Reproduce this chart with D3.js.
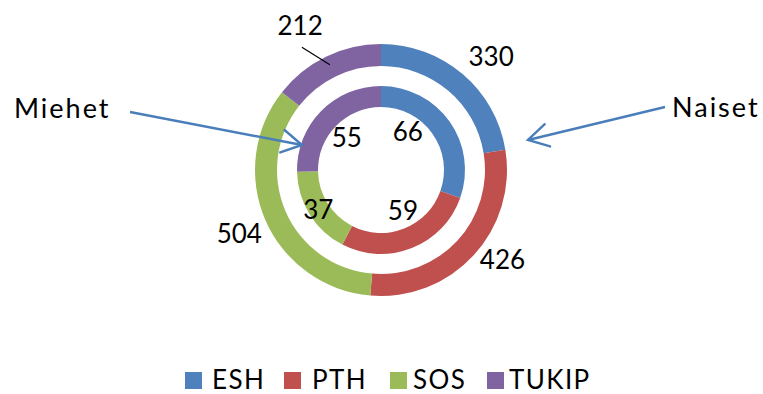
<!DOCTYPE html>
<html>
<head>
<meta charset="utf-8">
<script src="https://cdn.jsdelivr.net/npm/d3@7/dist/d3.min.js"></script>
<style>
  html, body { margin: 0; padding: 0; background: #fff; }
  svg { display: block; font-family: Lato, "Open Sans", sans-serif; }
</style>
</head>
<body>
<svg id="chart" width="763" height="394"></svg>
<script>
// Categories and values for the two rings
const categories = ["ESH", "PTH", "SOS", "TUKIP"];
const naiset = [330, 426, 504, 212];   // outer ring
const miehet = [66, 59, 37, 55];       // inner ring
const colors = ["#4F81BD", "#C0504D", "#9BBB59", "#8064A2"];

const svg = d3.select("#chart");
const cx = 381, cy = 170;

const color = d3.scaleOrdinal().domain(categories).range(colors);
const pie = d3.pie().sort(null).value(d => d.value);

function ringData(vals) {
  return pie(categories.map((c, i) => ({ cat: c, value: vals[i] })));
}

const g = svg.append("g").attr("transform", `translate(${cx},${cy})`);

const outerArc = d3.arc().innerRadius(104).outerRadius(126);
const innerArc = d3.arc().innerRadius(63).outerRadius(84);

const outerSlices = ringData(naiset);
const innerSlices = ringData(miehet);

g.selectAll("path.outer").data(outerSlices).join("path")
  .attr("class", "outer")
  .attr("d", outerArc)
  .attr("fill", d => color(d.data.cat));

g.selectAll("path.inner").data(innerSlices).join("path")
  .attr("class", "inner")
  .attr("d", innerArc)
  .attr("fill", d => color(d.data.cat));

const numFont = 26;
const mid = d => (d.startAngle + d.endAngle) / 2;
const polar = (r, a) => [r * Math.sin(a), -r * Math.cos(a)];

// Outer label layout: radius, angle nudge (rad), anchor, vertical offset
const outerLayout = [
  { r: 132, da: 0,     anchor: "start",  dy: "-0.12em" },
  { r: 132, da: 0,     anchor: "start",  dy: "0.35em" },
  { r: 132, da: 0,     anchor: "end",    dy: "0.8em" },
  { r: 165, da: -0.06, anchor: "middle", dy: "0.35em" }
];
outerSlices.forEach((d, i) => {
  const L = outerLayout[i];
  const a = mid(d);
  const [px, py] = polar(L.r, a + L.da);
  g.append("text")
    .attr("x", px + (L.anchor === "middle" ? 0 : 2))
    .attr("y", py)
    .attr("dy", L.dy)
    .attr("text-anchor", L.anchor)
    .attr("font-size", numFont)
    .attr("fill", "#000")
    .text(d.data.value);
  if (L.r > 150) {
    // leader line from the pushed-out label back to the middle of its slice
    const [x1, y1] = polar(146, a - 0.12);
    const [x2, y2] = polar(117, a);
    g.append("line")
      .attr("x1", x1).attr("y1", y1).attr("x2", x2).attr("y2", y2)
      .attr("stroke", "#000").attr("stroke-width", 1.2);
  }
});

// Inner labels sit inside the hole; the narrow SOS label sits on its slice
const innerLayout = [
  { r: 47, da: -0.35 },
  { r: 46, da: -0.12 },
  { r: 74, da: 0 },
  { r: 47, da: -0.02 }
];
innerSlices.forEach((d, i) => {
  const L = innerLayout[i];
  const [px, py] = polar(L.r, mid(d) + L.da);
  g.append("text")
    .attr("x", px)
    .attr("y", py)
    .attr("dy", "0.36em")
    .attr("text-anchor", "middle")
    .attr("font-size", numFont)
    .attr("fill", "#000")
    .text(d.data.value);
});

// Series callouts with open arrowheads
const arrowColor = "#4A7EBB";
function arrow(x1, y1, x2, y2) {
  svg.append("line")
    .attr("x1", x1).attr("y1", y1).attr("x2", x2).attr("y2", y2)
    .attr("stroke", arrowColor).attr("stroke-width", 2.4);
  const ang = Math.atan2(y2 - y1, x2 - x1);
  const L = 23, spread = 0.52;
  const p = s => [x2 - L * Math.cos(ang + s), y2 - L * Math.sin(ang + s)];
  const a1 = p(spread), a2 = p(-spread);
  svg.append("polyline")
    .attr("points", `${a1[0]},${a1[1]} ${x2},${y2} ${a2[0]},${a2[1]}`)
    .attr("fill", "none").attr("stroke", arrowColor)
    .attr("stroke-width", 2.4).attr("stroke-linecap", "round");
}
arrow(130, 112, 302, 145);
arrow(665, 107, 528, 140);

svg.append("text").attr("x", 14).attr("y", 118)
  .attr("font-size", 27).attr("letter-spacing", 2)
  .attr("fill", "#000").text("Miehet");
svg.append("text").attr("x", 672).attr("y", 117)
  .attr("font-size", 27).attr("letter-spacing", 2)
  .attr("fill", "#000").text("Naiset");

// Legend
const legendSwatchX = [185, 284, 390, 487];
const legendTextX = [212, 312, 413, 509];
const legend = svg.append("g");
categories.forEach((c, i) => {
  legend.append("rect")
    .attr("x", legendSwatchX[i]).attr("y", 372)
    .attr("width", 17).attr("height", 17)
    .attr("fill", color(c));
  legend.append("text")
    .attr("x", legendTextX[i]).attr("y", 389)
    .attr("font-size", 26).attr("letter-spacing", 1.4)
    .attr("fill", "#000")
    .text(c);
});
</script>
</body>
</html>
